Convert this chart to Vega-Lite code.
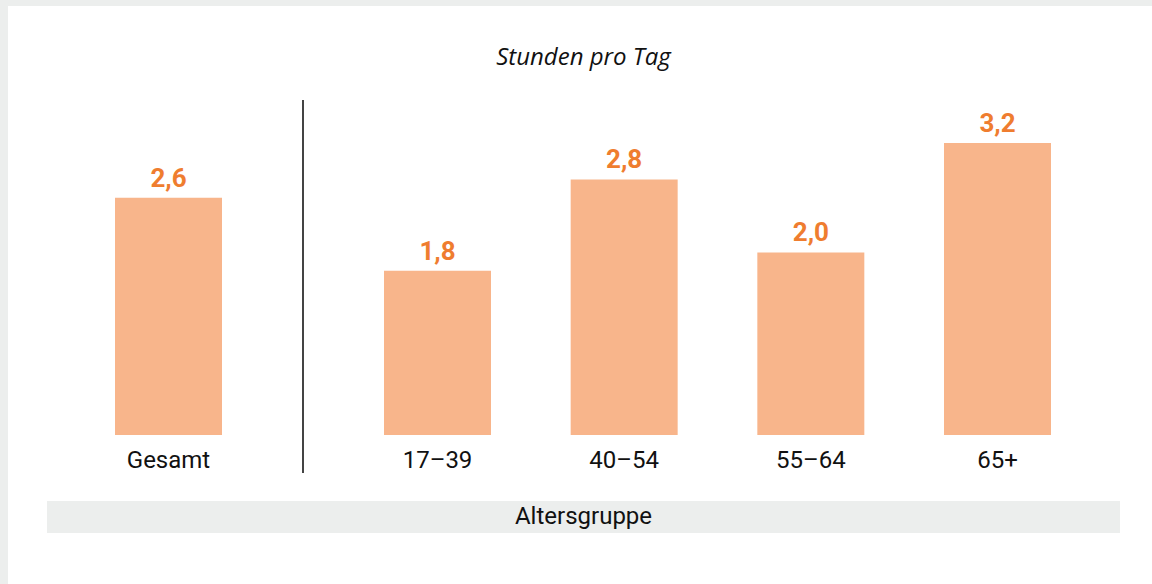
{
  "$schema": "https://vega.github.io/schema/vega-lite/v6.json",
  "width": 1152,
  "height": 584,
  "autosize": {"type": "fit", "contains": "padding"},
  "padding": {"left": 8, "top": 6, "right": 0, "bottom": 0},
  "background": "#eceeed",
  "config": {
    "view": {"fill": "white", "stroke": null},
    "locale": {"number": {"decimal": ",", "thousands": ".", "grouping": [3], "currency": ["", " €"]}}
  },
  "data": {"values": [
    {"group": "Gesamt", "kind": "Gesamt", "value": 2.6},
    {"group": "17–39", "kind": "Alter", "value": 1.8},
    {"group": "40–54", "kind": "Alter", "value": 2.8},
    {"group": "55–64", "kind": "Alter", "value": 2.0},
    {"group": "65+", "kind": "Alter", "value": 3.2}
  ]},
  "resolve": {"scale": {"x": "independent"}, "axis": {"x": "independent"}},
  "layer": [
    {
      "transform": [{"filter": "datum.kind == 'Gesamt'"}],
      "encoding": {
        "x": {"field": "group", "type": "nominal", "axis": null,
          "scale": {"type": "band", "domain": ["Gesamt", "|"], "range": [93.25, 362.25], "paddingInner": 0.20446, "paddingOuter": 0.10223, "round": false}}
      },
      "layer": [
        {
          "mark": {"type": "bar", "color": "#f8b58b"},
          "encoding": {
            "y": {"field": "value", "type": "quantitative", "axis": null,
              "scale": {"domain": [-1.63288, 4.70137], "nice": false, "zero": false}}
          }
        },
        {
          "mark": {"type": "text", "font": "Roboto", "fontWeight": "bold", "fontSize": 26, "color": "#ef7d2f", "baseline": "alphabetic", "dy": -11},
          "encoding": {
            "y": {"field": "value", "type": "quantitative"},
            "text": {"field": "value", "type": "quantitative", "format": ".1f"}
          }
        },
        {
          "mark": {"type": "text", "font": "Roboto", "fontSize": 24, "color": "#111111", "baseline": "alphabetic", "dy": 33},
          "encoding": {
            "y": {"datum": 0, "type": "quantitative"},
            "text": {"field": "group"}
          }
        },
        {
          "mark": {"type": "rule", "color": "#444444", "strokeWidth": 2},
          "encoding": {
            "x": {"datum": "|", "type": "nominal"},
            "y": {"datum": 3.6712, "type": "quantitative"},
            "y2": {"datum": -0.41644}
          }
        }
      ]
    },
    {
      "transform": [{"filter": "datum.kind == 'Alter'"}],
      "encoding": {
        "x": {"field": "group", "type": "nominal", "axis": null, "sort": null,
          "scale": {"type": "band", "domain": ["17–39", "40–54", "55–64", "65+"], "range": [336.17, 1082.83], "paddingInner": 0.42679, "paddingOuter": 0.213395, "round": false}}
      },
      "layer": [
        {
          "mark": {"type": "bar", "color": "#f8b58b"},
          "encoding": {"y": {"field": "value", "type": "quantitative"}}
        },
        {
          "mark": {"type": "text", "font": "Roboto", "fontWeight": "bold", "fontSize": 26, "color": "#ef7d2f", "baseline": "alphabetic", "dy": -11},
          "encoding": {
            "y": {"field": "value", "type": "quantitative"},
            "text": {"field": "value", "type": "quantitative", "format": ".1f"}
          }
        },
        {
          "mark": {"type": "text", "font": "Roboto", "fontSize": 24, "color": "#111111", "baseline": "alphabetic", "dy": 33},
          "encoding": {
            "y": {"datum": 0, "type": "quantitative"},
            "text": {"field": "group"}
          }
        }
      ]
    },
    {
      "data": {"values": [{"title": "Stunden pro Tag", "axis": "Altersgruppe"}]},
      "layer": [
        {
          "mark": {"type": "rect", "color": "#eceeed"},
          "encoding": {
            "x": {"datum": 0, "type": "quantitative", "axis": null,
              "scale": {"domain": [-0.036347, 1.029823], "nice": false, "zero": false}},
            "x2": {"datum": 1},
            "y": {"datum": -0.72329, "type": "quantitative"},
            "y2": {"datum": -1.07397}
          }
        },
        {
          "mark": {"type": "text", "font": "Roboto", "fontSize": 24, "color": "#111111", "baseline": "middle"},
          "encoding": {
            "x": {"datum": 0.5, "type": "quantitative"},
            "y": {"datum": -0.8986, "type": "quantitative"},
            "text": {"field": "axis"}
          }
        },
        {
          "mark": {"type": "text", "font": "Open Sans", "fontStyle": "italic", "fontSize": 24, "color": "#111111", "baseline": "middle"},
          "encoding": {
            "x": {"datum": 0.5, "type": "quantitative"},
            "y": {"datum": 4.1315, "type": "quantitative"},
            "text": {"field": "title"}
          }
        }
      ]
    }
  ]
}
